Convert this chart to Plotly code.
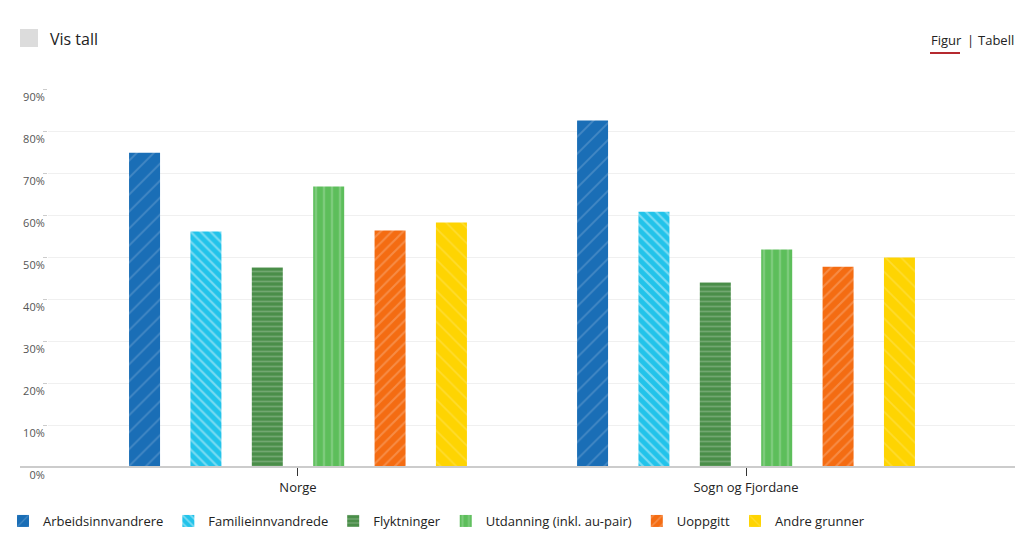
import plotly.graph_objects as go

# ---- data ----
categories = ["Norge", "Sogn og Fjordane"]
series_names = [
    "Arbeidsinnvandrere",
    "Familieinnvandrede",
    "Flyktninger",
    "Utdanning (inkl. au-pair)",
    "Uoppgitt",
    "Andre grunner",
]
arbeid = [74.8, 82.5]
familie = [56.1, 60.8]
flykt = [47.5, 43.9]
utdanning = [66.8, 51.8]
uoppgitt = [56.3, 47.7]
andre = [58.2, 49.9]
series_values = [arbeid, familie, flykt, utdanning, uoppgitt, andre]

y_tick_vals = [0, 10, 20, 30, 40, 50, 60, 70, 80, 90]
y_tick_text = ["0%", "10%", "20%", "30%", "40%", "50%", "60%", "70%", "80%", "90%"]

# ---- styles ----
colors = ["#1a6eb6", "#22c3ea", "#4a8e49", "#5dbe5b", "#f46c12", "#fed402"]
patterns = ["/", "\\", "-", "|", "/", "\\"]
pat_opacity = [0.18, 0.4, 0.22, 0.2, 0.22, 0.18]
pat_size = [12, 7, 5, 8, 8, 11]
pat_solid = [0.15, 0.3, 0.35, 0.3, 0.25, 0.15]

OFF = 8  # page body margin
W, H = 1024 - OFF, 550 - OFF
L, R, T, B = 48 - OFF, 9, 89 - OFF, 83
PW, PH = W - L - R, H - T - B


def px(xp):
    return (xp - OFF - L) / PW


def py(yp):
    return (H - B - (yp - OFF)) / PH


fig = go.Figure()
for name, vals, c, p, po, ps, sd in zip(series_names, series_values, colors, patterns,
                                        pat_opacity, pat_size, pat_solid):
    fig.add_trace(go.Bar(
        name=name, x=categories, y=vals,
        marker=dict(color=c, line=dict(width=0),
                    pattern=dict(shape=p, fgcolor="white", fgopacity=po,
                                 size=ps, solidity=sd)),
    ))

shapes = [
    # baseline
    dict(type="line", xref="paper", yref="paper", x0=px(20), x1=1.0, y0=0, y1=0,
         line=dict(color="#cccccc", width=2)),
    # checkbox
    dict(type="rect", xref="paper", yref="paper", x0=px(20), x1=px(38), y0=py(47), y1=py(29),
         fillcolor="#dcdcdc", line=dict(width=0)),
    # underline Figur
    dict(type="line", xref="paper", yref="paper", x0=px(930), x1=px(960), y0=py(53), y1=py(53),
         line=dict(color="#b5292f", width=2)),
]

annotations = [
    dict(text="Vis tall", xref="paper", yref="paper", x=px(48), y=py(39), xanchor="left",
         yanchor="middle", showarrow=False, font=dict(size=16, color="#222222")),
    dict(text="Figur", xref="paper", yref="paper", x=px(929), y=py(40), xanchor="left",
         yanchor="middle", showarrow=False, font=dict(size=13, color="#222222")),
    dict(text="|", xref="paper", yref="paper", x=px(965), y=py(40), xanchor="left",
         yanchor="middle", showarrow=False, font=dict(size=13, color="#222222")),
    dict(text="Tabell", xref="paper", yref="paper", x=px(976), y=py(40), xanchor="left",
         yanchor="middle", showarrow=False, font=dict(size=13, color="#222222")),
]

fig.update_layout(
    width=W, height=H,
    margin=dict(l=L, r=R, t=T, b=B, pad=0, autoexpand=False),
    paper_bgcolor="white", plot_bgcolor="white",
    font=dict(family="Open Sans, sans-serif", color="#222222"),
    barmode="group", bargap=0.178, bargroupgap=0.495,
    showlegend=True,
    legend=dict(orientation="h", x=px(3), y=py(506), xanchor="left", yanchor="top",
                font=dict(size=13, color="#222222"), itemsizing="constant",
                traceorder="normal", bgcolor="rgba(0,0,0,0)"),
    xaxis=dict(type="category", range=[-0.558, 1.6004], showgrid=False, showline=False,
               zeroline=False, ticks="outside", ticklen=8, tickcolor="#333333", tickwidth=1,
               automargin=False, tickfont=dict(size=13, color="#222222")),
    yaxis=dict(range=[0, 90], tickvals=y_tick_vals, ticktext=y_tick_text,
               showgrid=True, gridcolor="#f0f0f0", gridwidth=1, zeroline=False,
               showline=False, ticks="outside", ticklen=4, tickcolor="#cccccc",
               ticklabelposition="outside bottom", automargin=False,
               tickfont=dict(size=11, color="#555555")),
    shapes=shapes, annotations=annotations,
)

fig.write_html("out.html")
